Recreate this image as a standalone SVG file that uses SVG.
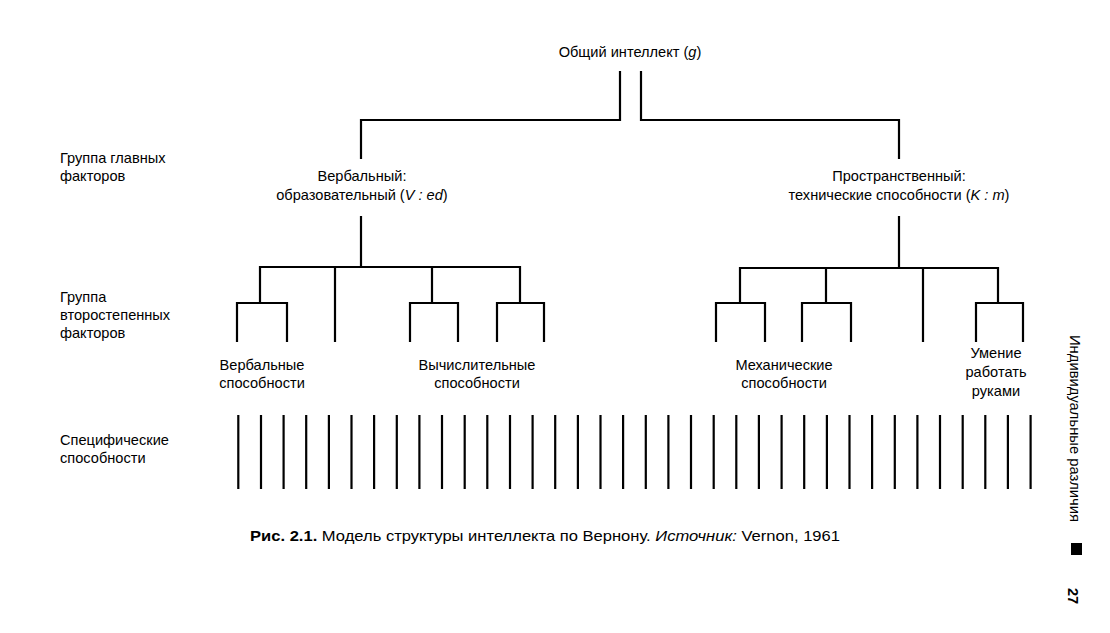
<svg xmlns="http://www.w3.org/2000/svg" width="1110" height="633" viewBox="0 0 1110 633">
<style>
text{font-family:"Liberation Sans","DejaVu Sans",sans-serif;font-size:14.6px;fill:#000}
.c{text-anchor:middle}
.ln{stroke:#000;stroke-width:2.2;fill:none;stroke-linecap:square}
.sp{stroke:#000;stroke-width:2.2}
</style>
<rect width="1110" height="633" fill="#fff"/>
<g id="labels-left">
<text x="60" y="163">Группа главных</text>
<text x="60" y="181">факторов</text>
<text x="60" y="302">Группа</text>
<text x="60" y="320">второстепенных</text>
<text x="60" y="338">факторов</text>
<text x="60" y="445">Специфические</text>
<text x="60" y="463">способности</text>
</g>
<g id="node-g"><text class="c" x="630" y="57">Общий интеллект (<tspan font-style="italic">g</tspan>)</text></g>
<g id="node-ved"><text class="c" x="362" y="181">Вербальный:</text><text class="c" x="362" y="200">образовательный (<tspan font-style="italic">V : ed</tspan>)</text></g>
<g id="node-km"><text class="c" x="899" y="181">Пространственный:</text><text class="c" x="899" y="200">технические способности (<tspan font-style="italic">K : m</tspan>)</text></g>
<g id="node-verbal"><text class="c" x="262" y="370">Вербальные</text><text class="c" x="262" y="388">способности</text></g>
<g id="node-calc"><text class="c" x="477" y="370">Вычислительные</text><text class="c" x="477" y="388">способности</text></g>
<g id="node-mech"><text class="c" x="784" y="370">Механические</text><text class="c" x="784" y="388">способности</text></g>
<g id="node-hands"><text class="c" x="996" y="358">Умение</text><text class="c" x="996" y="377">работать</text><text class="c" x="996" y="396">руками</text></g>
<g id="connectors">
<path class="ln" d="M620,72V120H361V158M641,72V120H899V158"/>
<path class="ln" d="M361,217V267M260,267H520M260,267V303M335,267V341M432,267V303M520,267V303"/>
<path class="ln" d="M237,341V303H287V341M410,341V303H458V341M497,341V303H544V341"/>
<path class="ln" d="M899,217V268M740,268H998M740,268V303M826,268V303M923,268V341M998,268V303"/>
<path class="ln" d="M716,341V303H765V341M802,341V303H851V341M976,341V303H1023V341"/>
</g>
<g id="specific" class="sp">
<path d="M238.3,415V489M261,415V489M283.6,415V489M306.2,415V489M328.9,415V489M351.5,415V489M374.1,415V489M396.8,415V489M419.4,415V489M442,415V489M464.7,415V489M487.3,415V489M510,415V489M532.6,415V489M555.2,415V489M577.9,415V489M600.5,415V489M623.1,415V489M645.8,415V489M668.4,415V489M691,415V489M713.7,415V489M736.3,415V489M758.9,415V489M781.6,415V489M804.2,415V489M826.9,415V489M849.5,415V489M872.1,415V489M894.8,415V489M917.4,415V489M940,415V489M962.7,415V489M985.3,415V489M1007.9,415V489M1030.6,415V489"/>
</g>
<g id="caption"><text x="250" y="541" font-size="16" textLength="590" lengthAdjust="spacingAndGlyphs"><tspan font-weight="bold">Рис. 2.1.</tspan> Модель структуры интеллекта по Вернону. <tspan font-style="italic">Источник:</tspan> Vernon, 1961</text></g>
<g id="running-head">
<text transform="translate(1070,335) rotate(90)" font-size="14.6" textLength="187" lengthAdjust="spacingAndGlyphs">Индивидуальные различия</text>
<rect x="1071" y="543" width="11" height="12" fill="#000"/>
<text transform="translate(1068,588) rotate(90)" font-size="20" font-weight="bold">27</text>
</g>
</svg>
